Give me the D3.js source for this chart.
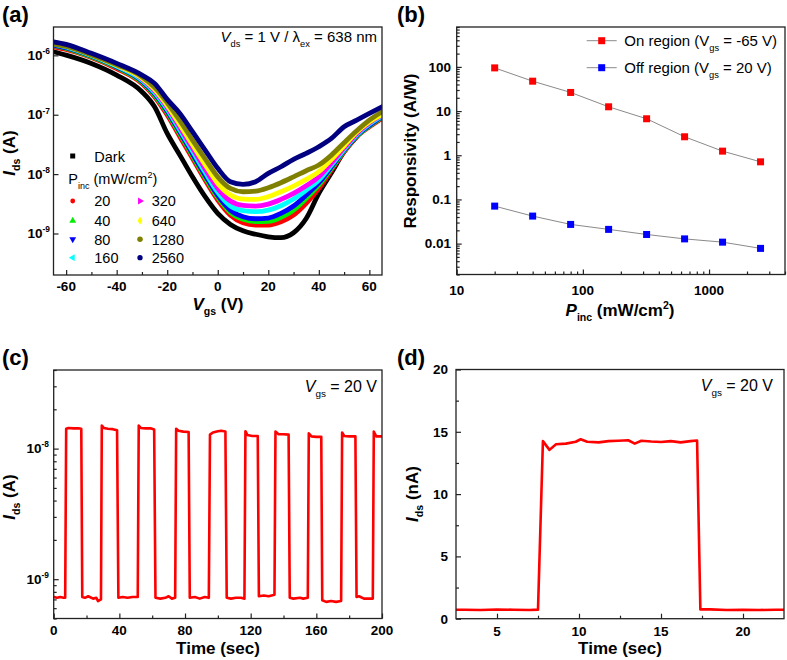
<!DOCTYPE html>
<html><head><meta charset="utf-8">
<script src="https://cdn.jsdelivr.net/npm/d3@7"></script>
<style>
body{margin:0;background:#fff}
svg{display:block}
text{font-family:"Liberation Sans",Arial,sans-serif;fill:#000}
</style>
</head><body>
<svg id="fig" width="787" height="660"></svg>
<script>
// ---------------- DATA ----------------
// (a) transfer curves, Ids (A) vs Vgs (V)
const vgs = [-65,-60,-50,-40,-30,-25,-20,-15,-10,-5,0,5,10,15,20,25,30,35,40,45,50,55,60,65];
const idsDark = [1.15e-6,1.01e-6,7.31e-7,4.65e-7,2.44e-7,1.36e-7,4.84e-8,2.09e-8,9.0e-9,4.16e-9,2.18e-9,1.42e-9,1.11e-9,9.7e-10,8.8e-10,8.5e-10,1.03e-9,1.79e-9,4.73e-9,1.05e-8,2.38e-8,4.26e-8,7.14e-8,9.86e-8];
const ids20 = [1.39e-6,1.26e-6,9.2e-7,6.0e-7,3.37e-7,2.01e-7,9.86e-8,4.26e-8,1.84e-8,7.93e-9,3.66e-9,2.04e-9,1.52e-9,1.39e-9,1.39e-9,1.58e-9,2.04e-9,3.21e-9,5.74e-9,1.17e-8,2.38e-8,4.26e-8,6.27e-8,8.67e-8];
const ids40 = [1.45e-6,1.31e-6,9.46e-7,6.26e-7,3.54e-7,2.14e-7,1.08e-7,4.72e-8,2.04e-8,8.8e-9,4.05e-9,2.27e-9,1.73e-9,1.58e-9,1.6e-9,1.87e-9,2.48e-9,3.9e-9,6.54e-9,1.25e-8,2.47e-8,4.37e-8,6.43e-8,9.0e-8];
const ids80 = [1.49e-6,1.34e-6,9.7e-7,6.42e-7,3.68e-7,2.25e-7,1.15e-7,5.1e-8,2.2e-8,9.6e-9,4.38e-9,2.48e-9,1.92e-9,1.77e-9,1.82e-9,2.18e-9,2.9e-9,4.44e-9,7.16e-9,1.33e-8,2.54e-8,4.48e-8,6.6e-8,9.25e-8];
const ids160 = [1.55e-6,1.39e-6,9.97e-7,6.59e-7,3.83e-7,2.37e-7,1.23e-7,5.51e-8,2.44e-8,1.07e-8,4.92e-9,2.9e-9,2.42e-9,2.33e-9,2.48e-9,2.94e-9,3.8e-9,5.38e-9,7.93e-9,1.42e-8,2.61e-8,4.6e-8,6.96e-8,9.49e-8];
const ids320 = [1.65e-6,1.47e-6,1.04e-6,6.85e-7,4.03e-7,2.53e-7,1.33e-7,6.11e-8,2.74e-8,1.22e-8,5.74e-9,3.52e-9,2.97e-9,2.9e-9,3.13e-9,3.75e-9,4.73e-9,6.37e-9,9.0e-9,1.55e-8,2.78e-8,4.84e-8,7.32e-8,9.86e-8];
const ids640 = [1.59e-6,1.43e-6,1.01e-6,6.76e-7,4.14e-7,2.67e-7,1.43e-7,6.78e-8,3.12e-8,1.44e-8,6.98e-9,4.44e-9,3.8e-9,3.75e-9,4.16e-9,5.05e-9,6.29e-9,8.14e-9,1.1e-8,1.77e-8,3.0e-8,5.1e-8,7.61e-8,1.01e-7];
const ids1280 = [1.55e-6,1.41e-6,1.01e-6,6.94e-7,4.36e-7,2.88e-7,1.59e-7,7.92e-8,3.74e-8,1.81e-8,9.0e-9,5.74e-9,5.05e-9,5.18e-9,5.9e-9,7.16e-9,9.0e-9,1.14e-8,1.42e-8,2.09e-8,3.38e-8,5.37e-8,8.1e-8,1.12e-7];
const ids2560 = [1.69e-6,1.53e-6,1.08e-6,7.31e-7,4.65e-7,3.37e-7,1.81e-7,1.05e-7,5.17e-8,2.54e-8,1.25e-8,7.44e-9,6.71e-9,7.44e-9,1.03e-8,1.33e-8,1.77e-8,2.23e-8,2.89e-8,3.99e-8,6.27e-8,8.1e-8,1.05e-7,1.36e-7];
const aLegendLabels = ["20","40","80","160","320","640","1280","2560"];
const aXTicks = [-60,-40,-20,0,20,40,60];
const aXMinor = [-50,-30,-10,10,30,50];
const aYTicks = [1e-9,1e-8,1e-7,1e-6];
const aYExp = ["-9","-8","-7","-6"];

// (b) responsivity (A/W) vs Pinc (mW/cm2)
const pinc = [20,40,80,160,320,640,1280,2560];
const respOn = [95,47.5,26.4,12.5,6.7,2.62,1.24,0.71];
const respOff = [0.0706,0.042,0.0272,0.021,0.0161,0.0128,0.0108,0.0078];
const bXTicks = [10,100,1000];
const bXLabels = ["10","100","1000"];
const bYTicks = [0.01,0.1,1,10,100];
const bYLabels = ["0.01","0.1","1","10","100"];

// (c) time response, Ids (A) vs time (s)
const cTime = [0,2,4,6,7.0,7.6,9,12,15,16.8,17.4,19,21,24,26,27,28.8,29.3,30.5,33,36,38.6,39.4,42,45,48,51.2,51.8,53,56,59,61.2,62,65,68,70,72,74,74.6,76,79,82.2,82.9,86,89,92,94.5,95.2,97,100,102,104.6,105.4,108,111,114,116.2,116.8,118,121,124.3,125,128,131,134.5,135.1,137,140,143.1,143.8,146,150,152,154.8,155.4,157,160,163,163.6,166,169,172,175.1,175.7,177,180,183.8,184.5,186,189,192,194.4,195,196.5,200];
const cIds = [7.3e-10,7.2e-10,7.3e-10,7.2e-10,7.2e-10,1.42e-8,1.44e-8,1.43e-8,1.43e-8,1.42e-8,7.3e-10,7.2e-10,7.4e-10,7.1e-10,7.2e-10,6.8e-10,7.0e-10,1.5e-8,1.44e-8,1.42e-8,1.41e-8,1.38e-8,7.2e-10,7.3e-10,7.2e-10,7.3e-10,7.3e-10,1.5e-8,1.44e-8,1.43e-8,1.43e-8,1.4e-8,7.2e-10,7.1e-10,7.2e-10,7.4e-10,7.1e-10,7.2e-10,1.42e-8,1.37e-8,1.35e-8,1.34e-8,7.2e-10,7.3e-10,7.1e-10,7.3e-10,7.2e-10,1.28e-8,1.33e-8,1.36e-8,1.37e-8,1.35e-8,7.2e-10,7.1e-10,7.2e-10,7.2e-10,7.1e-10,1.36e-8,1.27e-8,1.25e-8,1.25e-8,7.4e-10,7.5e-10,7.4e-10,7.6e-10,1.35e-8,1.29e-8,1.29e-8,1.28e-8,7.2e-10,7.1e-10,7.2e-10,7.1e-10,7.2e-10,1.31e-8,1.24e-8,1.23e-8,1.23e-8,6.9e-10,6.7e-10,6.8e-10,6.7e-10,6.8e-10,1.33e-8,1.25e-8,1.24e-8,1.24e-8,7.3e-10,7.4e-10,7.1e-10,7.1e-10,7.1e-10,1.35e-8,1.24e-8,1.24e-8];
const cXTicks = [0,40,80,120,160,200];
const cXMinor = [20,60,100,140,180];
const cYTicks = [1e-9,1e-8];
const cYExp = ["-9","-8"];

// (d) single pulse, Ids (nA) vs time (s)
const dTime = [2.5,3,4,5,6,7,7.5,7.8,8.2,8.6,9.2,9.8,10.1,10.5,11.2,11.8,12.4,13.0,13.4,13.8,14.4,15.0,15.6,16.2,16.8,17.2,17.4,18,19,20,21,22,22.5];
const dIds = [0.72,0.72,0.7,0.74,0.72,0.7,0.73,14.25,13.55,14.0,14.05,14.2,14.4,14.2,14.15,14.25,14.28,14.32,14.05,14.28,14.22,14.18,14.25,14.15,14.25,14.3,0.75,0.75,0.7,0.72,0.7,0.72,0.72];
const dXTicks = [5,10,15,20];
const dXMinor = [7.5,12.5,17.5];
const dYTicks = [0,5,10,15,20];
const dYMinor = [2.5,7.5,12.5,17.5];

// ---------------- HELPERS ----------------
const svg = d3.select("#fig");
svg.append("rect").attr("width",787).attr("height",660).attr("fill","#fff");

function rich(g, x, y, fs, parts, opt) {
  opt = opt || {};
  const t = g.append("text").attr("x", x).attr("y", y).attr("font-size", fs)
    .attr("text-anchor", opt.anchor || "start");
  if (opt.bold) t.attr("font-weight", "bold");
  if (opt.rotate) t.attr("transform", `rotate(-90,${x},${y})`);
  let cur = 0;
  parts.forEach(p => {
    const target = p.sub ? fs * 0.32 : p.sup ? -fs * 0.42 : 0;
    const s = t.append("tspan").attr("dy", (target - cur).toFixed(2)).text(p.t);
    cur = target;
    if (p.sub || p.sup) s.attr("font-size", (fs * 0.62).toFixed(2));
    if (p.i) s.attr("font-style", "italic");
  });
  return t;
}

function frame(g, x0, x1, y0, y1) {
  g.append("rect").attr("x", x0).attr("y", y0).attr("width", x1 - x0).attr("height", y1 - y0)
    .attr("fill", "none").attr("stroke", "#222").attr("stroke-width", 1.3);
}

function ticks(g, axisFn, scale, vals, size, tx, ty) {
  const ax = axisFn(scale).tickValues(vals).tickSize(-size).tickFormat("");
  const a = g.append("g").attr("transform", `translate(${tx},${ty})`).call(ax);
  a.select(".domain").remove();
  a.selectAll("line").attr("stroke", "#222").attr("stroke-width", 1.2);
}

function panelLabel(x, y, s) {
  svg.append("text").attr("x", x).attr("y", y).attr("font-size", 22).attr("font-weight", "bold").text(s);
}

// ---------------- PANEL (a) ----------------
(function () {
  const x0 = 53.5, x1 = 382, y0 = 27, y1 = 275;
  const g = svg.append("g");
  const x = d3.scaleLinear().domain([-65, 65]).range([x0, x1]);
  const y = d3.scaleLog().domain([2e-10, 3e-6]).range([y1, y0]);
  const series = [
    {v: idsDark, c: "#000000"},
    {v: ids20, c: "#ff0000"},
    {v: ids40, c: "#00ee00"},
    {v: ids80, c: "#0000ff"},
    {v: ids160, c: "#00ffff"},
    {v: ids320, c: "#ff00ff"},
    {v: ids640, c: "#ffff00"},
    {v: ids1280, c: "#808000"},
    {v: ids2560, c: "#000080"}
  ];
  const line = d3.line().x((d, i) => x(vgs[i])).y(d => y(d)).curve(d3.curveMonotoneX);
  g.append("clipPath").attr("id", "clipA").append("rect")
    .attr("x", x0).attr("y", y0).attr("width", x1 - x0).attr("height", y1 - y0);
  const lg = g.append("g").attr("clip-path", "url(#clipA)");
  series.forEach(s => {
    lg.append("path").attr("d", line(s.v)).attr("fill", "none").attr("stroke", s.c)
      .attr("stroke-width", 4.8).attr("stroke-linejoin", "round").attr("stroke-linecap", "round");
  });
  frame(g, x0, x1, y0, y1);
  ticks(g, d3.axisBottom, x, aXTicks, 5, 0, y1);
  ticks(g, d3.axisBottom, x, aXMinor, 3, 0, y1);
  ticks(g, d3.axisLeft, y, aYTicks, 5, x0, 0);
  aXTicks.forEach(v => g.append("text").attr("x", x(v)).attr("y", 291).attr("text-anchor", "middle")
    .attr("font-size", 13.5).attr("font-weight", "bold").text(v));
  aYTicks.forEach((v, i) => rich(g, 50, y(v) + 4.5, 13.5, [{t: "10"}, {t: aYExp[i], sup: true}], {anchor: "end", bold: true}));
  rich(g, 218, 310, 17, [{t: "V", i: true}, {t: "gs", sub: true}, {t: " (V)"}], {anchor: "middle", bold: true});
  rich(g, 15, 153, 17, [{t: "I", i: true}, {t: "ds", sub: true}, {t: " (A)"}], {anchor: "middle", bold: true, rotate: true});
  rich(g, 377, 41.7, 15, [{t: "V", i: true}, {t: "ds", sub: true}, {t: " = 1 V / λ"}, {t: "ex", sub: true}, {t: " = 638 nm"}], {anchor: "end"});

  // legend
  const sym = (type, size, rot) => ({type, size, rot});
  const markers = [
    sym(d3.symbolCircle, 18, 0), sym(d3.symbolTriangle, 20, 0), sym(d3.symbolTriangle, 20, 180),
    sym(d3.symbolTriangle, 20, -90), sym(d3.symbolTriangle, 20, 90), sym(d3.symbolDiamond, 20, 0),
    sym(d3.symbolCircle, 24, 0), sym(d3.symbolCircle, 22, 0)
  ];
  g.append("rect").attr("x", 70.2).attr("y", 153.5).attr("width", 5).attr("height", 5).attr("fill", "#000");
  g.append("text").attr("x", 94.3).attr("y", 161.5).attr("font-size", 14.5).text("Dark");
  rich(g, 68.3, 184.3, 14.5, [{t: "P"}, {t: "inc", sub: true}, {t: " (mW/cm"}, {t: "2", sup: true}, {t: ")"}]);
  const rowsY = [201, 220.7, 239.3, 257.7];
  aLegendLabels.forEach((lab, i) => {
    const col = Math.floor(i / 4), row = i % 4;
    const mx = col === 0 ? 72.7 : 140, tx = col === 0 ? 94.3 : 151.7, cy = rowsY[row];
    const m = markers[i];
    g.append("path").attr("d", d3.symbol().type(m.type).size(m.size)())
      .attr("transform", `translate(${mx},${cy}) rotate(${m.rot})`).attr("fill", series[i + 1].c);
    g.append("text").attr("x", tx).attr("y", cy + 5.2).attr("font-size", 14.5).text(lab);
  });
})();
panelLabel(2, 22, "(a)");

// ---------------- PANEL (b) ----------------
(function () {
  const x0 = 456.7, x1 = 785, y0 = 27, y1 = 274.5;
  const g = svg.append("g");
  const x = d3.scaleLog().domain([10, 4000]).range([x0, x1]);
  const y = d3.scaleLog().domain([0.002, 800]).range([y1, y0]);
  frame(g, x0, x1, y0, y1);
  const xMinor = x.ticks().filter(v => !bXTicks.includes(v));
  const yMinor = y.ticks().filter(v => !bYTicks.some(t => Math.abs(t - v) / t < 1e-6));
  ticks(g, d3.axisBottom, x, bXTicks, 5, 0, y1);
  ticks(g, d3.axisBottom, x, xMinor, 3, 0, y1);
  ticks(g, d3.axisLeft, y, bYTicks, 5, x0, 0);
  ticks(g, d3.axisLeft, y, yMinor, 3, x0, 0);
  bXTicks.forEach((v, i) => g.append("text").attr("x", x(v)).attr("y", 295).attr("text-anchor", "middle")
    .attr("font-size", 13.5).attr("font-weight", "bold").text(bXLabels[i]));
  bYTicks.forEach((v, i) => g.append("text").attr("x", 451).attr("y", y(v) + 4.8).attr("text-anchor", "end")
    .attr("font-size", 13.5).attr("font-weight", "bold").text(bYLabels[i]));
  const line = d3.line().x((d, i) => x(pinc[i])).y(d => y(d));
  [[respOn, "#ff0000"], [respOff, "#0000ff"]].forEach(([vals, c]) => {
    g.append("path").attr("d", line(vals)).attr("fill", "none").attr("stroke", "#8a8a8a").attr("stroke-width", 1);
    vals.forEach((v, i) => g.append("rect").attr("x", x(pinc[i]) - 3.5).attr("y", y(v) - 3.5)
      .attr("width", 7).attr("height", 7).attr("fill", c));
  });
  // legend
  [[40.7, "#ff0000", "On region (V", "gs", " = -65 V)"], [67.7, "#0000ff", "Off region (V", "gs", " = 20 V)"]].forEach(r => {
    g.append("line").attr("x1", 586.7).attr("x2", 616.7).attr("y1", r[0]).attr("y2", r[0]).attr("stroke", "#8a8a8a").attr("stroke-width", 1);
    g.append("rect").attr("x", 601.7 - 3.5).attr("y", r[0] - 3.5).attr("width", 7).attr("height", 7).attr("fill", r[1]);
    rich(g, 624.3, r[0] + 5.5, 15, [{t: r[2]}, {t: r[3], sub: true}, {t: r[4]}]);
  });
  rich(g, 620, 316, 17, [{t: "P", i: true}, {t: "inc", sub: true}, {t: " (mW/cm"}, {t: "2", sup: true}, {t: ")"}], {anchor: "middle", bold: true});
  g.append("text").attr("transform", "rotate(-90,416,151)").attr("x", 416).attr("y", 151)
    .attr("text-anchor", "middle").attr("font-size", 17).attr("font-weight", "bold").text("Responsivity (A/W)");
})();
panelLabel(397, 22, "(b)");

// ---------------- PANEL (c) ----------------
(function () {
  const x0 = 53.7, x1 = 382, y0 = 370, y1 = 618.5;
  const g = svg.append("g");
  const x = d3.scaleLinear().domain([0, 200]).range([x0, x1]);
  const y = d3.scaleLog().domain([5e-10, 4e-8]).range([y1, y0]);
  const line = d3.line().x((d, i) => x(cTime[i])).y(d => y(d));
  g.append("path").attr("d", line(cIds)).attr("fill", "none").attr("stroke", "#ff0000")
    .attr("stroke-width", 2.6).attr("stroke-linejoin", "round");
  frame(g, x0, x1, y0, y1);
  const yMinor = y.ticks().filter(v => !cYTicks.some(t => Math.abs(t - v) / t < 1e-6));
  ticks(g, d3.axisBottom, x, cXTicks, 5, 0, y1);
  ticks(g, d3.axisBottom, x, cXMinor, 3, 0, y1);
  ticks(g, d3.axisLeft, y, cYTicks, 5, x0, 0);
  ticks(g, d3.axisLeft, y, yMinor, 3, x0, 0);
  cXTicks.forEach(v => g.append("text").attr("x", x(v)).attr("y", 635).attr("text-anchor", "middle")
    .attr("font-size", 13.5).attr("font-weight", "bold").text(v));
  cYTicks.forEach((v, i) => rich(g, 49, y(v) + 4.5, 13.5, [{t: "10"}, {t: cYExp[i], sup: true}], {anchor: "end", bold: true}));
  g.append("text").attr("x", 218).attr("y", 654).attr("text-anchor", "middle").attr("font-size", 17)
    .attr("font-weight", "bold").text("Time (sec)");
  rich(g, 15, 497, 17, [{t: "I", i: true}, {t: "ds", sub: true}, {t: " (A)"}], {anchor: "middle", bold: true, rotate: true});
  rich(g, 377, 391.5, 16, [{t: "V", i: true}, {t: "gs", sub: true}, {t: " = 20 V"}], {anchor: "end"});
})();
panelLabel(2, 365, "(c)");

// ---------------- PANEL (d) ----------------
(function () {
  const x0 = 456, x1 = 784, y0 = 369.5, y1 = 618.7;
  const g = svg.append("g");
  const x = d3.scaleLinear().domain([2.5, 22.5]).range([x0, x1]);
  const y = d3.scaleLinear().domain([0, 20]).range([y1, y0]);
  const line = d3.line().x((d, i) => x(dTime[i])).y(d => y(d));
  g.append("path").attr("d", line(dIds)).attr("fill", "none").attr("stroke", "#ff0000")
    .attr("stroke-width", 2.6).attr("stroke-linejoin", "round");
  frame(g, x0, x1, y0, y1);
  ticks(g, d3.axisBottom, x, dXTicks, 5, 0, y1);
  ticks(g, d3.axisBottom, x, dXMinor, 3, 0, y1);
  ticks(g, d3.axisLeft, y, dYTicks, 5, x0, 0);
  ticks(g, d3.axisLeft, y, dYMinor, 3, x0, 0);
  dXTicks.forEach(v => g.append("text").attr("x", x(v)).attr("y", 636).attr("text-anchor", "middle")
    .attr("font-size", 13.5).attr("font-weight", "bold").text(v));
  dYTicks.forEach(v => g.append("text").attr("x", 448).attr("y", y(v) + 4.8).attr("text-anchor", "end")
    .attr("font-size", 13.5).attr("font-weight", "bold").text(v));
  g.append("text").attr("x", 620).attr("y", 654).attr("text-anchor", "middle").attr("font-size", 17)
    .attr("font-weight", "bold").text("Time (sec)");
  rich(g, 418, 494, 17, [{t: "I", i: true}, {t: "ds", sub: true}, {t: " (nA)"}], {anchor: "middle", bold: true, rotate: true});
  rich(g, 773, 390.7, 16, [{t: "V", i: true}, {t: "gs", sub: true}, {t: " = 20 V"}], {anchor: "end"});
})();
panelLabel(397, 365, "(d)");
</script>
</body></html>
